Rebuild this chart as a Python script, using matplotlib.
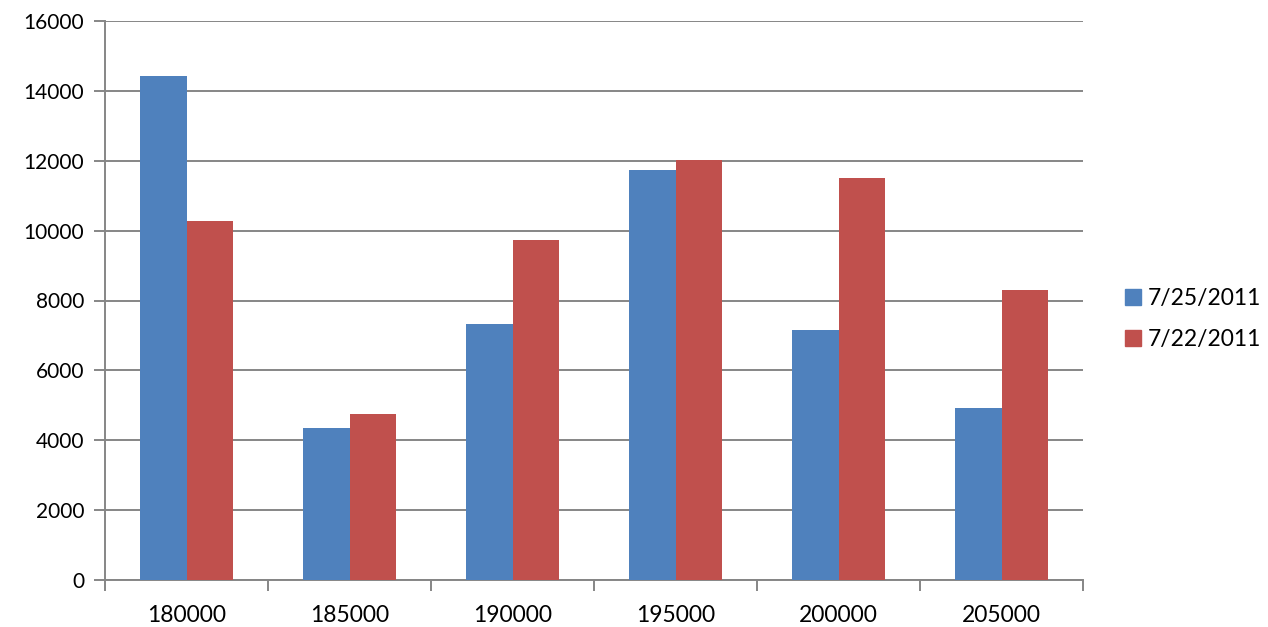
import numpy as np
import matplotlib.pyplot as plt
from matplotlib.patches import Patch

categories = ['180000', '185000', '190000', '195000', '200000', '205000']
series_names = ['7/25/2011', '7/22/2011']
vals_0725 = [14430, 4360, 7330, 11740, 7160, 4910]
vals_0722 = [10280, 4760, 9740, 12030, 11500, 8290]

blue = '#4F81BD'
red = '#C0504D'
grid_col = '#868686'

plt.rcParams['font.family'] = ['Lato', 'DejaVu Sans']

fig = plt.figure(figsize=(12.68, 6.27), dpi=100)
ax = fig.add_axes([105 / 1268, 47 / 627, (1083 - 105) / 1268, (580 - 21) / 627])

x = np.arange(len(categories))
w = 0.286
ax.bar(x - w / 2, vals_0725, w, color=blue, zorder=3)
ax.bar(x + w / 2, vals_0722, w, color=red, zorder=3)

ax.set_xlim(-0.5, len(categories) - 0.5)
ax.set_ylim(0, 16000)
ax.set_yticks(np.arange(0, 16001, 2000))
ax.yaxis.grid(True, color=grid_col, linewidth=1.4, zorder=0)

ax.set_xticks(x)
ax.set_xticklabels(categories)
ax.set_xticks(np.arange(-0.5, len(categories)), minor=True)
ax.tick_params(axis='x', which='major', length=0, pad=18, labelsize=16.5)
ax.tick_params(axis='x', which='minor', length=8, width=1.4, color=grid_col, direction='out')
ax.tick_params(axis='y', length=8, width=1.4, color=grid_col, labelsize=15, pad=7)

for s in ['top', 'right']:
    ax.spines[s].set_visible(False)
for s in ['left', 'bottom']:
    ax.spines[s].set_color(grid_col)
    ax.spines[s].set_linewidth(1.4)

handles = [Patch(color=blue), Patch(color=red)]
fig.legend(handles, series_names, loc='center left', bbox_to_anchor=(1125 / 1268, 1 - 319 / 627),
           frameon=False, fontsize=16.5, handlelength=0.7, handleheight=0.7, borderpad=0,
           borderaxespad=0, handletextpad=0.3, labelspacing=0.9)

fig.savefig('out.png', dpi=100)
